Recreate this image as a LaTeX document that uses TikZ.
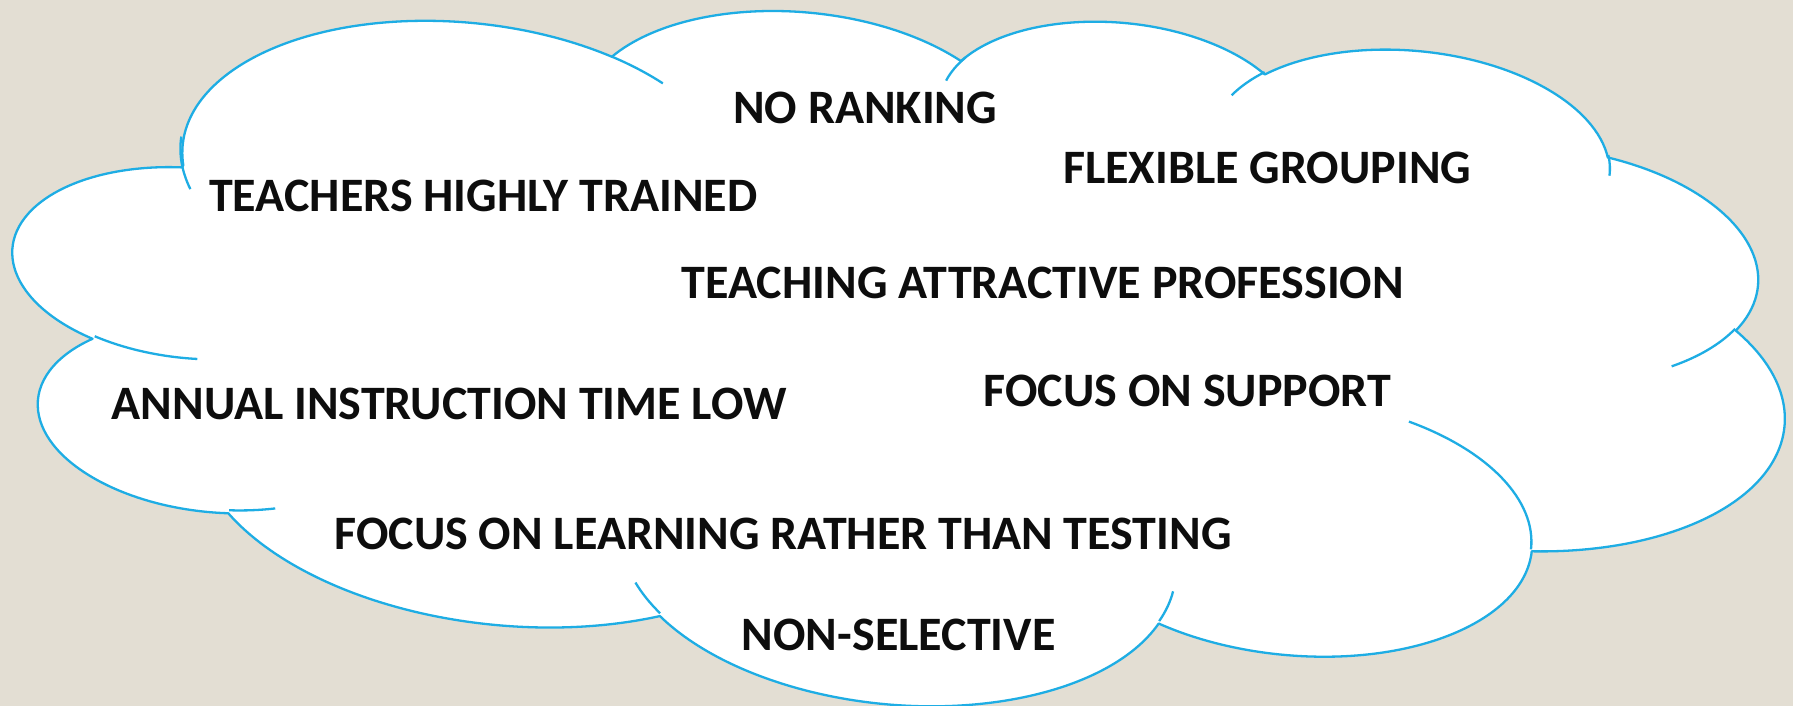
\documentclass[tikz,border=0pt]{standalone}
\usepackage{fontspec}
\setmainfont{Carlito}
\definecolor{bg}{HTML}{E3DED3}
\definecolor{cloudline}{HTML}{1EADE4}
\definecolor{txt}{HTML}{0D0D0D}
% arc of the cloud outline: #1 name, #2 x radius, #3 y radius, #4 start angle, #5 sweep (visual angles)
\newcommand\defcloudarc[5]{%
  \pgfmathsetmacro\cloudtmpS{atan2((#2)*sin(#4),(#3)*cos(#4))}%
  \pgfmathsetmacro\cloudtmpE{atan2((#2)*sin((#4)+(#5)),(#3)*cos((#4)+(#5)))}%
  \pgfmathsetmacro\cloudtmpE{\cloudtmpE+360*((\cloudtmpE)<(\cloudtmpS))}%
  \expandafter\let\csname cloudS#1\endcsname\cloudtmpS
  \expandafter\let\csname cloudE#1\endcsname\cloudtmpE
}
\begin{document}
\begin{tikzpicture}[x=1pt,y=-1pt,
  outline/.style={draw=cloudline,line width=2.3pt,line join=round,fill=white},
  innerarc/.style={draw=cloudline,line width=2.3pt},
  lbl/.style={font=\fontsize{48}{58}\selectfont\bfseries,text=txt,inner sep=0pt,anchor=base west}]
\fill[bg] (0,0) rectangle (1793,706);
\useasboundingbox (0,0) rectangle (1793,706);
% outline arcs
\defcloudarc{A}{67.53}{91.90}{-190.48748}{123.78053}
\defcloudarc{B}{53.33}{72.67}{-144.10238}{89.94523}
\defcloudarc{C}{43.65}{59.45}{-145.80792}{99.72302}
\defcloudarc{D}{48.57}{65.95}{-130.98607}{117.24173}
\defcloudarc{E}{53.33}{72.73}{-78.70888}{109.02692}
\defcloudarc{F}{67.75}{92.20}{-46.26725}{130.26900}
\defcloudarc{G}{57.85}{78.67}{0.62502}{114.03333}
\defcloudarc{H}{67.52}{92.15}{22.45160}{115.17255}
\defcloudarc{I}{77.20}{105.43}{66.24263}{75.71102}
\defcloudarc{J}{43.60}{59.18}{-274.94208}{146.73557}
\defcloudarc{K}{43.45}{59.45}{-246.82850}{152.51885}
% inner arcs
\defcloudarc{a}{43.45}{59.45}{86.74200}{26.42950}
\defcloudarc{b}{43.60}{59.18}{73.61047}{11.44747}
\defcloudarc{c}{67.52}{92.15}{137.62415}{14.08110}
\defcloudarc{d}{67.52}{92.15}{6.45327}{15.99835}
\defcloudarc{e}{57.85}{78.67}{-70.29235}{70.91737}
\defcloudarc{f}{53.33}{72.73}{30.31803}{27.75150}
\defcloudarc{g}{48.57}{65.95}{-13.74433}{14.85890}
\defcloudarc{h}{48.57}{65.95}{-149.18145}{18.19537}
\defcloudarc{i}{43.65}{59.45}{-163.49427}{19.50482}
\defcloudarc{j}{67.53}{91.90}{-66.70695}{12.31935}
\defcloudarc{k}{67.53}{91.90}{155.64720}{26.66097}
\begin{scope}[x=1pt,y=1pt,cm={4.0989,-0.3894,-0.1568,-1.6138,(45.97pt,81.75pt)}]
\path[outline] (39.00,143.70)
  arc[start angle=\cloudSA, end angle=\cloudEA, x radius=67.53, y radius=91.90]
  arc[start angle=\cloudSB, end angle=\cloudEB, x radius=53.33, y radius=72.67]
  arc[start angle=\cloudSC, end angle=\cloudEC, x radius=43.65, y radius=59.45]
  arc[start angle=\cloudSD, end angle=\cloudED, x radius=48.57, y radius=65.95]
  arc[start angle=\cloudSE, end angle=\cloudEE, x radius=53.33, y radius=72.73]
  arc[start angle=\cloudSF, end angle=\cloudEF, x radius=67.75, y radius=92.20]
  arc[start angle=\cloudSG, end angle=\cloudEG, x radius=57.85, y radius=78.67]
  arc[start angle=\cloudSH, end angle=\cloudEH, x radius=67.52, y radius=92.15]
  arc[start angle=\cloudSI, end angle=\cloudEI, x radius=77.20, y radius=105.43]
  arc[start angle=\cloudSJ, end angle=\cloudEJ, x radius=43.60, y radius=59.18]
  arc[start angle=\cloudSK, end angle=\cloudEK, x radius=43.45, y radius=59.45]
  -- cycle;
\path[innerarc]
  (46.93,261.77) arc[start angle=\cloudSa, end angle=\cloudEa, x radius=43.45, y radius=59.45]
  (69.28,348.99) arc[start angle=\cloudSb, end angle=\cloudEb, x radius=43.60, y radius=59.18]
  (164.78,390.90) arc[start angle=\cloudSc, end angle=\cloudEc, x radius=67.52, y radius=92.15]
  (288.27,347.51) arc[start angle=\cloudSd, end angle=\cloudEd, x radius=67.52, y radius=92.15]
  (341.29,229.54) arc[start angle=\cloudSe, end angle=\cloudEe, x radius=57.85, y radius=78.67]
  (417.98,153.54) arc[start angle=\cloudSf, end angle=\cloudEf, x radius=53.33, y radius=72.73]
  (383.24,54.26) arc[start angle=\cloudSg, end angle=\cloudEg, x radius=48.57, y radius=65.95]
  (290.78,39.52) arc[start angle=\cloudSh, end angle=\cloudEh, x radius=48.57, y radius=65.95]
  (221.41,47.20) arc[start angle=\cloudSi, end angle=\cloudEi, x radius=43.65, y radius=59.45]
  (140.00,51.92) arc[start angle=\cloudSj, end angle=\cloudEj, x radius=67.53, y radius=91.90]
  (41.27,157.89) arc[start angle=\cloudSk, end angle=\cloudEk, x radius=67.53, y radius=91.90];
\end{scope}
% texts
\node[lbl] (noranking) at (733,123.5) {NO RANKING};
\node[lbl] (teachers) at (209,211.5) {TEACHERS HIGHLY TRAINED};
\node[lbl] (flexible) at (1063,183.5) {FLEXIBLE GROUPING};
\node[lbl] (attractive) at (681.5,298.5) {TEACHING ATTRACTIVE PROFESSION};
\node[lbl] (annual) at (111.5,419.3) {ANNUAL INSTRUCTION TIME LOW};
\node[lbl] (support) at (983.5,406.8) {FOCUS ON SUPPORT};
\node[lbl] (learning) at (334.3,549.5) {FOCUS ON LEARNING RATHER THAN TESTING};
\node[lbl] (nonselective) at (741.7,650.8) {NON-SELECTIVE};
\end{tikzpicture}
\end{document}
